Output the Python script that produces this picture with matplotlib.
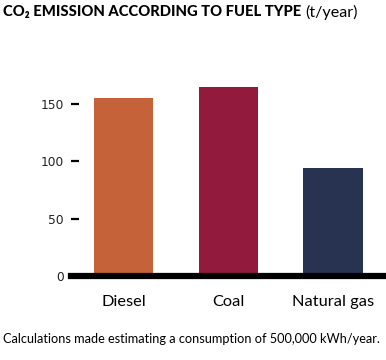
import matplotlib
matplotlib.use("Agg")
import matplotlib.pyplot as plt

categories = ["Diesel", "Coal", "Natural gas"]
values = [155, 164.5, 94]
colors = ["#C5623A", "#921A3D", "#283351"]
yticks = [0, 50, 100, 150]

W, H = 386, 360
fig = plt.figure(figsize=(W / 100, H / 100), dpi=100)
ax = fig.add_axes([71 / W, (H - 276) / H, (386 - 71) / W, (170 * 1.146) / H])

x = list(range(len(categories)))
ax.bar(x, values, width=0.567, color=colors, zorder=2)
ax.set_xlim(-0.503, 2.505)
ax.set_ylim(0, 170)

for s in ["top", "right", "left"]:
    ax.spines[s].set_visible(False)
ax.spines["bottom"].set_linewidth(4.5)
ax.spines["bottom"].set_color("black")
ax.spines["bottom"].set_zorder(3)

ax.set_yticks(yticks)
ax.set_yticklabels([str(v) for v in yticks], fontsize=8.8, family="DejaVu Sans", color="#222222")
ax.tick_params(axis="y", direction="in", length=6, width=1.6, pad=5, color="black")
ax.set_xticks(x)
ax.set_xticklabels(categories, fontsize=11.8, family="Lato", color="black")
ax.tick_params(axis="x", length=0, pad=14)

# Title
fam = ["Lato", "DejaVu Sans"]
t1 = fig.text(3 / W, 1 - 12 / H, "CO\u2082 EMISSION ACCORDING TO FUEL TYPE", fontsize=10.6,
              fontweight="black", family=fam, va="center", ha="left")
fig.canvas.draw()
bb = t1.get_window_extent(fig.canvas.get_renderer())
fig.text(bb.x1 / W + 4 / W, 1 - 12 / H, "(t/year)", fontsize=11.6, family=fam,
         va="center", ha="left")

fig.text(3 / W, 1 - 339 / H, "Calculations made estimating a consumption of 500,000 kWh/year.",
         fontsize=9.2, family="Lato", va="center", ha="left")

fig.savefig("out.png", dpi=100)
